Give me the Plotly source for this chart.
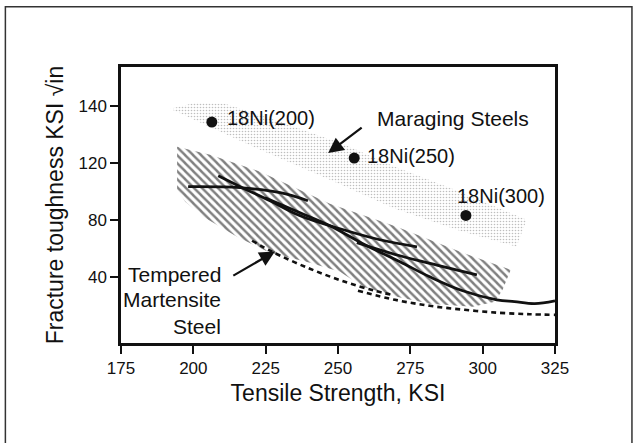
import plotly.graph_objects as go

# ---------------- data (axis units) ----------------
# Y axis: four evenly spaced ticks labelled 40, 80, 120, 140 in the reference
y_tickvals = [40, 80, 120, 160]
y_ticktext = ["40", "80", "120", "140"]
x_tickvals = [175, 200, 225, 250, 275, 300, 325]

# Maraging steels band (stippled)
maraging_x = [192.0, 200.6, 211.0, 230.0, 252.4, 269.7, 290.4, 315.2, 311.7, 292.1, 269.7, 247.2, 223.1, 205.8, 192.0]
maraging_y = [157.8, 162.0, 161.3, 148.7, 132.6, 117.3, 101.2, 80.2, 61.3, 72.5, 87.9, 108.2, 129.1, 145.2, 157.8]

# Tempered martensite band (hatched)
tempered_x = [194.4, 205.8, 223.1, 247.2, 270.3, 293.1, 309.7, 306.9, 304.2, 296.6, 281.7, 270.3, 258.6,
              250.7, 240.3, 226.5, 215.1, 203.4, 197.2, 194.4]
tempered_y = [131.2, 125.7, 113.8, 91.4, 75.3, 57.1, 45.2, 31.2, 22.8, 19.3, 21.4, 26.3, 33.3,
              43.8, 50.1, 57.1, 68.3, 82.3, 92.8, 101.2]

# solid curves
s1_x = [198.2, 216.2, 230.0, 239.6]
s1_y = [103.3, 102.6, 99.1, 93.5]
s2_x = [208.6, 216.2, 226.5, 236.9, 250.7, 264.5, 277.3]
s2_y = [110.9, 103.3, 93.5, 83.0, 73.9, 66.2, 61.3]
s3_x = [256.5, 271.4, 285.2, 298.0]
s3_y = [64.1, 55.0, 48.0, 41.7]
s4_x = [224.8, 236.9, 247.2, 259.3, 271.4, 281.7, 293.1, 304.9, 311.0, 318.0, 325.0]
s4_y = [95.6, 85.1, 76.0, 62.7, 50.8, 40.3, 30.5, 24.2, 22.9, 21.5, 23.5]

# dashed curves
d1_x = [220.3, 227.2, 240.3, 252.4, 262.7, 268.6]
d1_y = [65.5, 57.8, 45.9, 36.8, 30.5, 27.7]
d2_x = [256.9, 269.7, 281.7, 293.8, 305.9, 316.3, 325.0]
d2_y = [30.5, 24.2, 20.0, 17.2, 15.1, 14.1, 13.7]

# 18Ni grades
grade_names = ["18Ni(200)", "18Ni(250)", "18Ni(300)"]
grade_x = [206.4, 255.6, 294.2]
grade_y = [148.5, 123.3, 83.2]
grade_label_x = [211.0, 259.3, 290.4]
grade_label_y = [151.3, 124.5, 97.0]

FONT = "Liberation Sans, Arial, sans-serif"
INK = "#111111"

fig = go.Figure()

fig.add_trace(go.Scatter(
    x=maraging_x, y=maraging_y, mode="lines", fill="toself",
    line=dict(width=0, color="rgba(0,0,0,0)"),
    fillcolor="rgba(255,255,255,0)",
    fillpattern=dict(shape=".", fgcolor="#7d7d7d", bgcolor="rgba(255,255,255,0)", size=3, solidity=0.22),
    hoverinfo="skip", showlegend=False))

fig.add_trace(go.Scatter(
    x=tempered_x, y=tempered_y, mode="lines", fill="toself",
    line=dict(width=0, color="rgba(0,0,0,0)"),
    fillcolor="rgba(255,255,255,0)",
    fillpattern=dict(shape="\\", fgcolor="#000000", bgcolor="rgba(255,255,255,0)", size=5.657, solidity=0.42),
    hoverinfo="skip", showlegend=False))

for xs, ys in [(s1_x, s1_y), (s2_x, s2_y), (s3_x, s3_y), (s4_x, s4_y)]:
    fig.add_trace(go.Scatter(x=xs, y=ys, mode="lines", line=dict(color=INK, width=2.8, shape="spline"),
                             hoverinfo="skip", showlegend=False))

for xs, ys in [(d1_x, d1_y), (d2_x, d2_y)]:
    fig.add_trace(go.Scatter(x=xs, y=ys, mode="lines",
                             line=dict(color=INK, width=2.6, dash="5px,4px", shape="spline"),
                             hoverinfo="skip", showlegend=False))

fig.add_trace(go.Scatter(x=grade_x, y=grade_y, mode="markers",
                         marker=dict(color=INK, size=11), hoverinfo="skip", showlegend=False))

annotations = []
for name, lx, ly in zip(grade_names, grade_label_x, grade_label_y):
    annotations.append(dict(x=lx, y=ly, text=name, showarrow=False, xanchor="left", yanchor="middle",
                            font=dict(family=FONT, size=20, color=INK)))

annotations.append(dict(x=262.7, y=151.3, text="Maraging Steels", showarrow=False, xanchor="left",
                        yanchor="middle", font=dict(family=FONT, size=21, color=INK)))
for txt, ty in [("Tempered", 41.7), ("Martensite", 24.2), ("Steel", 5.6)]:
    annotations.append(dict(x=210.2, y=ty, text=txt, showarrow=False, xanchor="right", yanchor="middle",
                            font=dict(family=FONT, size=21, color=INK)))

# arrows
annotations.append(dict(x=246.6, y=126.8, ax=258.7, ay=145.4, axref="x", ayref="y", xref="x", yref="y",
                        text="", showarrow=True, arrowhead=2, arrowsize=1.4, arrowwidth=2.2, arrowcolor=INK))
annotations.append(dict(x=228.2, y=58.0, ax=213.3, ay=40.5, axref="x", ayref="y", xref="x", yref="y",
                        text="", showarrow=True, arrowhead=2, arrowsize=1.4, arrowwidth=2.2, arrowcolor=INK))

fig.update_layout(
    width=642, height=443,
    margin=dict(l=121, r=87, t=67, b=100),
    paper_bgcolor="white", plot_bgcolor="white",
    annotations=annotations,
    shapes=[dict(type="rect", xref="paper", yref="paper", x0=-0.2664, x1=1.1773, y0=-0.40, y1=1.2185,
                 line=dict(color="#333333", width=1.5), layer="below")],
    xaxis=dict(range=[175, 325], tickvals=x_tickvals, showgrid=False, zeroline=False,
               showline=True, mirror=True, linecolor=INK, linewidth=2.5,
               ticks="outside", ticklen=8, tickwidth=1.5, tickcolor=INK,
               tickfont=dict(family=FONT, size=17, color=INK),
               title=dict(text="Tensile Strength, KSI", font=dict(family=FONT, size=23, color=INK), standoff=8)),
    yaxis=dict(range=[-6, 187], tickvals=y_tickvals, ticktext=y_ticktext, showgrid=False, zeroline=False,
               showline=True, mirror=True, linecolor=INK, linewidth=2.5,
               ticks="outside", ticklen=8, tickwidth=1.5, tickcolor=INK,
               tickfont=dict(family=FONT, size=17, color=INK),
               title=dict(text="Fracture toughness KSI √in", font=dict(family=FONT, size=23, color=INK), standoff=9)),
)

fig.write_html("out.html", config={"displayModeBar": False},
               post_script="document.body.style.margin='0';document.body.style.overflow='hidden';")
